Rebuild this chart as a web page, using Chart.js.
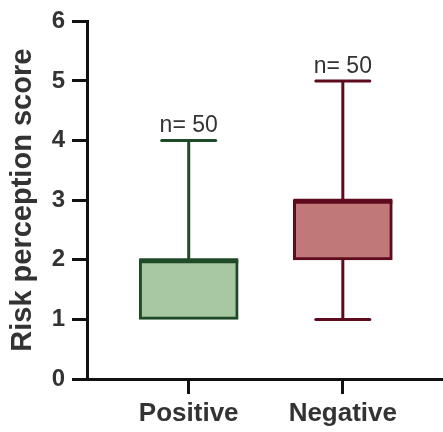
<!DOCTYPE html>
<html>
<head>
<meta charset="utf-8">
<script src="https://cdn.jsdelivr.net/npm/chart.js@4"></script>
<style>
  html, body { margin: 0; padding: 0; background: #fff; }
  #wrap { width: 443px; height: 432px; }
</style>
</head>
<body>
<div id="wrap"><canvas id="myChart"></canvas></div>
<script>
// data
const grupos = ["Positive", "Negative"];
const minimos = [1, 1];
const q1 = [1, 2];
const medianas = [2, 3];
const q3 = [2, 3];
const maximos = [4, 5];
const conteos = [50, 50];
const yTicks = [0, 1, 2, 3, 4, 5, 6];

const bordes = ["#1f4a27", "#5e0b1e"];
const rellenos = ["#a8c8a2", "#c07878"];
const texto = "#333333";
const fuente = "'Liberation Sans', Arial, sans-serif";

// whiskers, caps, medians and n= labels
const cajas = {
  id: "cajas",
  afterDatasetsDraw(chart) {
    const ctx = chart.ctx;
    const x = chart.scales.x;
    const y = chart.scales.y;
    ctx.save();
    grupos.forEach(function (g, i) {
      const cx = x.getPixelForValue(i);
      const mitad = 99 / 2;
      const tapa = 27;
      ctx.strokeStyle = bordes[i];
      ctx.lineWidth = 3;
      // whiskers + caps (only where they stick out of the box)
      [[q3[i], maximos[i]], [q1[i], minimos[i]]].forEach(function (par) {
        if (par[0] == par[1]) return;
        const p0 = y.getPixelForValue(par[0]);
        const p1 = y.getPixelForValue(par[1]);
        ctx.lineCap = "butt";
        ctx.beginPath();
        ctx.moveTo(cx, p0);
        ctx.lineTo(cx, p1);
        ctx.stroke();
        ctx.lineCap = "round";
        ctx.beginPath();
        ctx.moveTo(cx - tapa, p1);
        ctx.lineTo(cx + tapa, p1);
        ctx.stroke();
      });
      // median
      ctx.lineCap = "butt";
      ctx.lineWidth = 5;
      const pm = y.getPixelForValue(medianas[i]);
      ctx.beginPath();
      ctx.moveTo(cx - mitad, pm + 1);
      ctx.lineTo(cx + mitad, pm + 1);
      ctx.stroke();
      // n label
      ctx.fillStyle = texto;
      ctx.font = "23px " + fuente;
      ctx.textAlign = "center";
      ctx.textBaseline = "bottom";
      ctx.fillText("n= " + conteos[i], cx, y.getPixelForValue(maximos[i]) - 3);
    });
    ctx.restore();
  }
};

const config = {
  type: "bar",
  data: {
    datasets: [{
      label: "caja",
      data: grupos.map(function (g, i) { return { x: i, y: [q1[i], q3[i]] }; }),
      backgroundColor: rellenos,
      borderColor: bordes,
      borderWidth: 3,
      borderSkipped: false,
      barThickness: 99
    }]
  },
  options: {
    responsive: true,
    maintainAspectRatio: false,
    animation: false,
    layout: { padding: { top: 14, right: 0, left: 0, bottom: 0 } },
    plugins: { legend: { display: false }, tooltip: { enabled: false } },
    scales: {
      x: {
        type: "linear",
        offset: false,
        min: -0.66,
        max: 1.65,
        afterBuildTicks: function (axis) {
          axis.ticks = grupos.map(function (g, i) { return { value: i }; });
        },
        afterFit: function (axis) { axis.height = 53; },
        ticks: {
          callback: function (v) { return grupos[v]; },
          color: texto,
          font: { family: fuente, size: 26, weight: "bold" },
          padding: 4,
          maxRotation: 0,
          autoSkip: false
        },
        grid: { offset: false, drawOnChartArea: false, drawTicks: true, tickLength: 15, lineWidth: 3, color: "#111" },
        border: { color: "#111", width: 3 }
      },
      y: {
        min: 0,
        max: 6,
        afterBuildTicks: function (axis) {
          axis.ticks = yTicks.map(function (v) { return { value: v }; });
        },
        afterFit: function (axis) { axis.width = 87; },
        ticks: {
          color: texto,
          font: { family: fuente, size: 24, weight: "bold" },
          padding: 7
        },
        grid: { drawOnChartArea: false, drawTicks: true, tickLength: 15, lineWidth: 3, color: "#111" },
        border: { color: "#111", width: 3 },
        title: {
          display: true,
          text: "Risk perception score",
          color: texto,
          font: { family: fuente, size: 29, weight: "bold" },
          padding: { top: 6, bottom: 0 }
        }
      }
    }
  },
  plugins: [cajas]
};

new Chart(document.getElementById("myChart"), config);
</script>
</body>
</html>
